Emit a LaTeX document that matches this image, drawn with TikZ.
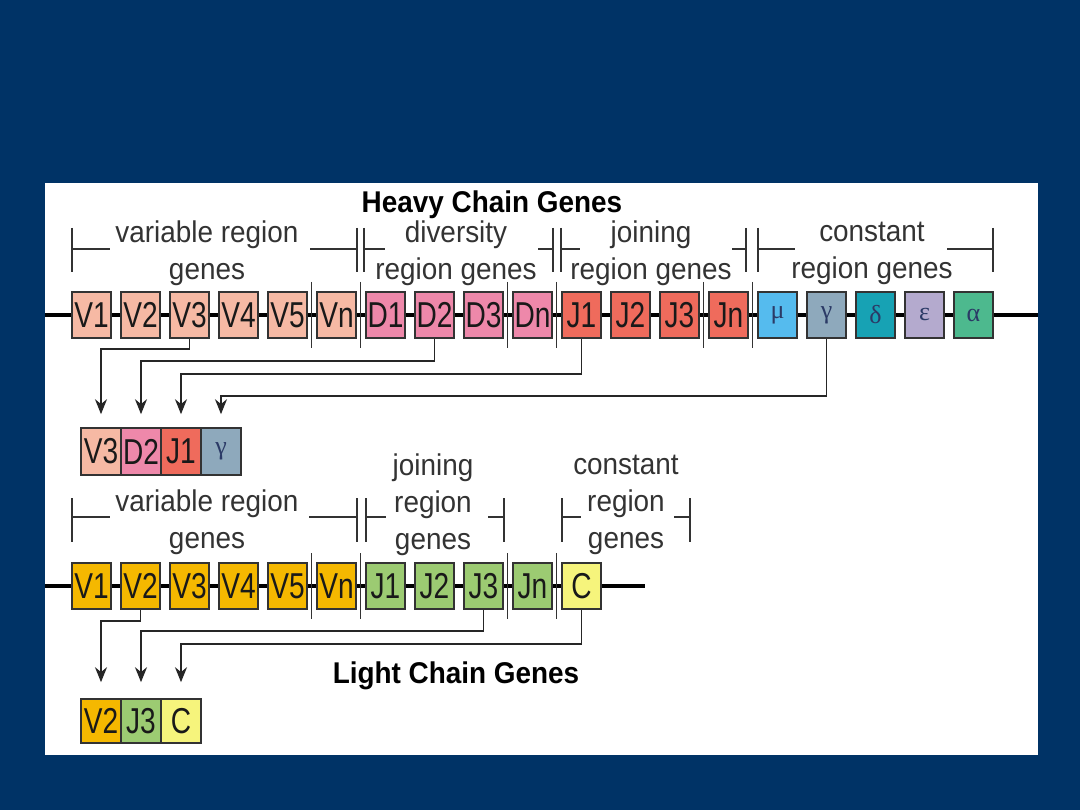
\documentclass[tikz,border=0pt]{standalone}
\usepackage{fontspec}
\setmainfont[FakeStretch=0.93]{Liberation Sans}
\newfontfamily\genefont[FakeStretch=0.78]{Liberation Sans}
\newfontfamily\greekfont{Liberation Serif}
\usetikzlibrary{arrows.meta}
\definecolor{slide}{HTML}{003366}
\definecolor{hvar}{HTML}{F6B9A4}
\definecolor{hdiv}{HTML}{EE88AA}
\definecolor{hjoin}{HTML}{EF6B5C}
\definecolor{cmu}{HTML}{55BBEE}
\definecolor{cgam}{HTML}{8EA9BC}
\definecolor{cdel}{HTML}{17A2B4}
\definecolor{ceps}{HTML}{B4AACE}
\definecolor{calp}{HTML}{4DB98E}
\definecolor{lvar}{HTML}{F5B800}
\definecolor{ljoin}{HTML}{9CCB72}
\definecolor{lcon}{HTML}{F6F47C}
\definecolor{greektxt}{HTML}{2B3A66}
\begin{document}
\begin{tikzpicture}[x=1pt,y=-1pt,
    gene/.style={draw=black!80,line width=1.6pt,minimum width=39pt,minimum height=46pt,inner sep=0pt,
      font=\genefont\fontsize{36}{36}\selectfont,text=black!90},
    greek/.style={font=\greekfont\fontsize{26}{26}\selectfont,text=greektxt},
    chain/.style={line width=4pt},
    brk/.style={draw=black!80,line width=1.6pt},
    link/.style={draw=black!85,line width=1.6pt,-{Stealth[length=15pt,width=12pt]}},
    lbl/.style={align=center,inner sep=0pt,font=\fontsize{30}{37}\selectfont,text=black!80},
    ttl/.style={inner sep=0pt,font=\bfseries\fontsize{30}{30}\selectfont}]
  \useasboundingbox (0,0) rectangle (1080,810);
  \fill[slide] (0,0) rectangle (1080,810);
  \fill[white] (45,183) rectangle (1038,755);

  % heavy chain
  \node[ttl] (htitle) at (492,205) {Heavy Chain Genes};
  \foreach \a/\b/\c/\d in {72/110/310/357, 364/385/538/553, 561/580/732/746, 758/795/947/993}{
    \draw[brk] (\a,228) -- (\a,272) (\a,249) -- (\b,249) (\c,249) -- (\d,249) (\d,228) -- (\d,272);
  }
  \node[lbl] (hvarlbl) at (207,253) {variable region\\genes};
  \node[lbl] (hdivlbl) at (456,253) {diversity\\region genes};
  \node[lbl] (hjoinlbl) at (651,253) {joining\\region genes};
  \node[lbl] (hconlbl) at (872,253) {constant\\region genes};

  \draw[chain] (45,315) -- (1038,315);
  \foreach \x in {311.5,360.5,507.5,556.5,703.5,752.5}
    \draw[brk] (\x,282) -- (\x,348);
  \foreach \i/\n/\c in {0/V1/hvar, 1/V2/hvar, 2/V3/hvar, 3/V4/hvar, 4/V5/hvar, 5/Vn/hvar,
      6/D1/hdiv, 7/D2/hdiv, 8/D3/hdiv, 9/Dn/hdiv, 10/J1/hjoin, 11/J2/hjoin, 12/J3/hjoin, 13/Jn/hjoin}
    \node[gene,fill=\c] (h\n) at (91.5+49*\i,315) {\n};
  \foreach \i/\n/\t/\c in {14/mu/μ/cmu, 15/gam/γ/cgam, 16/del/δ/cdel, 17/eps/ε/ceps, 18/alp/α/calp}
    \node[gene,greek,fill=\c] (h\n) at (91.5+49*\i,315) {\t};

  \foreach \i/\n/\c in {0/V3/hvar, 1/D2/hdiv, 2/J1/hjoin}
    \node[gene,minimum width=40pt,minimum height=47pt,fill=\c] (r\n) at (101+40*\i,451.5) {\n};
  \node[gene,greek,minimum width=40pt,minimum height=47pt,fill=cgam] (rgam) at (221,451.5) {γ};

  \draw[link,shorten >=13pt] (hV3.south) -- ++(0,10) -| (rV3.north);
  \draw[link,shorten >=13pt] (hD2.south) -- ++(0,22) -| (rD2.north);
  \draw[link,shorten >=13pt] (hJ1.south) -- ++(0,35) -| (rJ1.north);
  \draw[link,shorten >=13pt] (hgam.south) -- ++(0,57) -| (rgam.north);

  % light chain
  \foreach \a/\b/\c/\d in {72/110/309/357, 366/386/488/504, 562/581/674/690}{
    \draw[brk] (\a,498) -- (\a,542) (\a,517) -- (\b,517) (\c,517) -- (\d,517) (\d,498) -- (\d,542);
  }
  \node[lbl] (lvarlbl) at (207,522) {variable region\\genes};
  \node[lbl] (ljoinlbl) at (433,505) {joining\\region\\genes};
  \node[lbl] (lconlbl) at (626,505) {constant\\region\\genes};

  \draw[chain] (45,586) -- (645,586);
  \foreach \x in {311.5,360.5,507.5,556.5}
    \draw[brk] (\x,553) -- (\x,619);
  \foreach \i/\n/\c in {0/V1/lvar, 1/V2/lvar, 2/V3/lvar, 3/V4/lvar, 4/V5/lvar, 5/Vn/lvar,
      6/J1/ljoin, 7/J2/ljoin, 8/J3/ljoin, 9/Jn/ljoin, 10/C/lcon}
    \node[gene,fill=\c] (l\n) at (91.5+49*\i,586) {\n};

  \foreach \i/\n/\c in {0/V2/lvar, 1/J3/ljoin, 2/C/lcon}
    \node[gene,minimum width=40pt,minimum height=44pt,fill=\c] (s\n) at (101+40*\i,721) {\n};

  \draw[link,shorten >=16pt] (lV2.south) -- ++(0,11) -| (sV2.north);
  \draw[link,shorten >=16pt] (lJ3.south) -- ++(0,21) -| (sJ3.north);
  \draw[link,shorten >=16pt] (lC.south) -- ++(0,34) -| (sC.north);

  \node[ttl] (ltitle) at (456,676) {Light Chain Genes};
\end{tikzpicture}
\end{document}
